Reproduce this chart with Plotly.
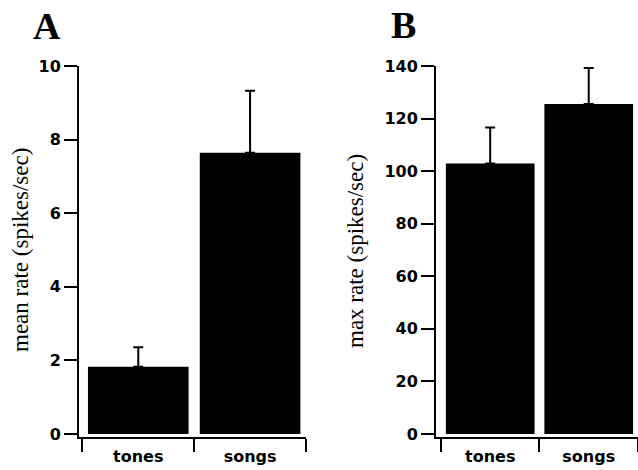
import plotly.graph_objects as go

categories = ["tones", "songs"]
mean_rate = [1.83, 7.64]
mean_err = [0.53, 1.69]
max_rate = [102.9, 125.5]
max_err = [13.7, 13.7]
mean_ticks = [0, 2, 4, 6, 8, 10]
max_ticks = [0, 20, 40, 60, 80, 100, 120, 140]

W, H = 638, 470
fig = go.Figure()

fig.add_trace(go.Bar(
    x=categories, y=mean_rate, xaxis="x", yaxis="y", width=0.9,
    marker=dict(color="black", line=dict(width=0)),
    error_y=dict(type="data", symmetric=False, array=mean_err, arrayminus=[0, 0],
                 color="black", thickness=2, width=5),
    showlegend=False))
fig.add_trace(go.Bar(
    x=categories, y=max_rate, xaxis="x2", yaxis="y2", width=0.9,
    marker=dict(color="black", line=dict(width=0)),
    error_y=dict(type="data", symmetric=False, array=max_err, arrayminus=[0, 0],
                 color="black", thickness=2, width=5),
    showlegend=False))

tickfont = dict(family="DejaVu Sans", size=16, color="black", weight="bold")
ydom = [(470 - 437) / H, (470 - 66) / H]

common_x = dict(type="category", tickson="boundaries", ticks="outside", ticklen=13,
                tickwidth=2, tickcolor="black", showline=True, linecolor="black",
                linewidth=2, showgrid=False, zeroline=False, tickfont=tickfont,
                automargin=False, ticklabelstandoff=4)
common_y = dict(ticks="outside", ticklen=13, tickwidth=2, tickcolor="black",
                showline=True, linecolor="black", linewidth=2, showgrid=False,
                zeroline=False, tickfont=tickfont, automargin=False)

fig.update_layout(
    width=W, height=H, margin=dict(l=0, r=0, t=0, b=0),
    paper_bgcolor="white", plot_bgcolor="white",
    xaxis=dict(domain=[79 / W, 306 / W], range=[-0.53, 1.5], anchor="y", **common_x),
    yaxis=dict(domain=ydom, range=[-0.0815, 10], tickvals=mean_ticks, anchor="x", **common_y),
    xaxis2=dict(domain=[436 / W, 1.0], range=[-0.55, 1.5], anchor="y2", **common_x),
    yaxis2=dict(domain=ydom, range=[-1.14, 140], tickvals=max_ticks, anchor="x2", **common_y),
    bargap=0.1,
)

serif = "Liberation Serif"
ann = dict(xref="paper", yref="paper", showarrow=False, xanchor="center", yanchor="middle")
fig.add_annotation(text="<b>A</b>", x=47 / W, y=1 - 26 / H,
                   font=dict(family=serif, size=38, color="black"), **ann)
fig.add_annotation(text="<b>B</b>", x=403 / W, y=1 - 25 / H,
                   font=dict(family=serif, size=38, color="black"), **ann)
fig.add_annotation(text="mean rate (spikes/sec)", x=20 / W, y=1 - 250 / H, textangle=-90,
                   font=dict(family=serif, size=23, color="black"), **ann)
fig.add_annotation(text="max rate (spikes/sec)", x=355 / W, y=1 - 251 / H, textangle=-90,
                   font=dict(family=serif, size=23, color="black"), **ann)

fig.write_html("out.html")
